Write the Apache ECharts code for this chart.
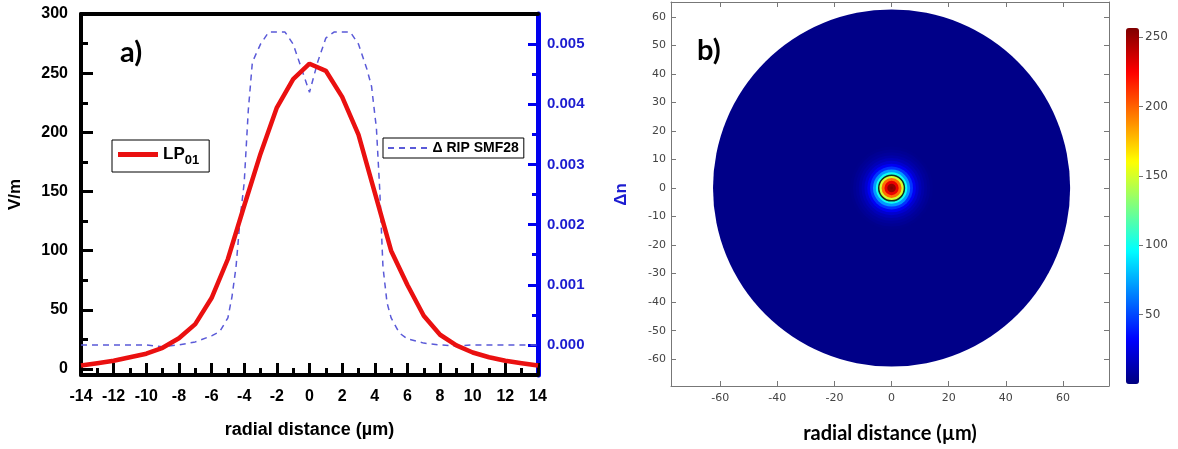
<!DOCTYPE html>
<html>
<head>
<meta charset="utf-8">
<script src="https://cdn.jsdelivr.net/npm/echarts@6/dist/echarts.min.js"></script>
<style>
html,body{margin:0;padding:0;background:#fff;}
#chart{width:1178px;height:449px;}
</style>
</head>
<body>
<div id="chart"></div>
<script>
// ---------- DATA ----------
// Panel a: LP01 field profile (V/m) vs radial distance (µm)
const radialX = [-14,-13,-12,-11,-10,-9,-8,-7,-6,-5,-4,-3,-2,-1,0,1,2,3,4,5,6,7,8,9,10,11,12,13,14];
const lp01Values = [3,5,7,10,13,18,26,38,60,93,138,182,221,245,258,252,230,198,149,100,71,45,29,20,14,10,7,5,3];
// Panel a: refractive index profile Δn (SMF28)
const ripX = [-14,-12,-10,-9,-8,-7,-6,-5.5,-5,-4.75,-4.5,-4.25,-4,-3.75,-3.5,-3,-2.5,-1.5,-1,-0.5,0,0.5,1,1.5,2.5,3,3.5,3.8,4.1,4.3,4.5,4.75,5,5.5,6,7,8,9,10,12,14];
const ripValues = [0,0,0,-0.00003,0,0.00005,0.00015,0.00022,0.00045,0.0008,0.0013,0.0021,0.0027,0.0039,0.0047,0.0050,0.0052,0.0052,0.0050,0.0046,0.0042,0.0047,0.0051,0.0052,0.0052,0.0050,0.0046,0.0043,0.0036,0.0026,0.0013,0.0007,0.00045,0.0002,0.0001,0.00003,0,-0.00002,0,0,0];
// Tick labels
const aXTicks = [-14,-12,-10,-8,-6,-4,-2,0,2,4,6,8,10,12,14];
const aLeftLabels = [0,50,100,150,200,250,300];
const aLeftMinor = [0,25,50,75,100,125,150,175,200,225,250,275,300];
const aRightLabels = [0,0.001,0.002,0.003,0.004,0.005];
const aRightMinor = [0,0.0005,0.001,0.0015,0.002,0.0025,0.003,0.0035,0.004,0.0045,0.005];
const bXLabels = [-60,-40,-20,0,20,40,60];
const bYLabels = [-60,-50,-40,-30,-20,-10,0,10,20,30,40,50,60];
const colorbarLabels = [50,100,150,200,250];
// Panel b: fibre geometry (µm) and field radial profile (right half of LP01)
const claddingRadius = 62.5;
const coreRadius = 4.5;
const spotRadius = [0,1,2,3,4,5,6,7,8,9,10,11,12,13,14];
const spotField = [258,252,230,198,149,100,71,45,29,20,14,10,7,5,3];
const fieldMin = 0, fieldMax = 256.5;

// ---------- CHART ----------
const chart = echarts.init(document.getElementById('chart'), null, {renderer:'canvas'});
const AR = 'Liberation Sans, Arial, sans-serif';
const CAL = 'Lato, Open Sans, sans-serif';
const BLUE = '#0000ee';
const jet = ['#00007f','#0000ff','#007fff','#00ffff','#7fff7f','#ffff00','#ff7f00','#ff0000','#7f0000'];

const lpData = radialX.map((x,i)=>[x, lp01Values[i]]);
const ripData = ripX.map((x,i)=>[x, ripValues[i]]);
const spotData = spotRadius.map((r,i)=>[r, spotField[i]]).reverse();

const option = {
  backgroundColor:'#fff',
  animation:false,
  grid:[
    {left:81, top:14, width:457, height:361, containLabel:false},
    {left:671, top:2, width:438, height:387, containLabel:false},
    {left:1126, top:28, width:13, height:356, containLabel:false}
  ],
  xAxis:[
    {gridIndex:0, type:'value', position:'bottom', min:-14, max:14, interval:2,
     axisLine:{show:true, onZero:false, lineStyle:{color:'#000', width:4}},
     axisTick:{show:true, inside:true, length:12, lineStyle:{color:'#000', width:3}},
     minorTick:{show:true, splitNumber:2, length:7, lineStyle:{color:'#000', width:3}},
     axisLabel:{color:'#000', fontSize:16, fontWeight:'bold', fontFamily:AR, margin:14,
       customValues: aXTicks},
     splitLine:{show:false}, minorSplitLine:{show:false},
     name:'radial distance (µm)', nameLocation:'middle', nameGap:46,
     nameTextStyle:{color:'#000', fontSize:18, fontWeight:'bold', fontFamily:AR}},
    {gridIndex:0, type:'value', position:'top', min:-14, max:14,
     axisLine:{show:true, onZero:false, lineStyle:{color:'#000', width:4}},
     axisTick:{show:false}, axisLabel:{show:false}, splitLine:{show:false}},
    {gridIndex:1, type:'value', position:'bottom', min:-77.2, max:76.1,
     axisLine:{show:true, onZero:false, lineStyle:{color:'#777', width:1}},
     axisTick:{show:true, inside:true, length:5, customValues:bXLabels, lineStyle:{color:'#777'}},
     axisLabel:{color:'#444', fontSize:11, fontFamily:'DejaVu Sans, sans-serif', margin:7, customValues:bXLabels},
     splitLine:{show:false},
     name:'radial distance (µm)', nameLocation:'middle', nameGap:38,
     nameTextStyle:{color:'#000', fontSize:20, fontWeight:'bold', fontFamily:CAL}},
    {gridIndex:1, type:'value', position:'top', min:-77.2, max:76.1,
     axisLine:{show:true, onZero:false, lineStyle:{color:'#777', width:1}},
     axisTick:{show:true, inside:true, length:5, customValues:bXLabels, lineStyle:{color:'#777'}},
     axisLabel:{show:false}, splitLine:{show:false}},
    {gridIndex:2, type:'value', min:0, max:1, show:false}
  ],
  yAxis:[
    {gridIndex:0, type:'value', position:'left', min:-5, max:300,
     axisLine:{show:true, onZero:false, lineStyle:{color:'#000', width:4}},
     axisTick:{show:true, inside:true, length:7, customValues:aLeftMinor, lineStyle:{color:'#000', width:3}},
     axisLabel:{color:'#000', fontSize:16, fontWeight:'bold', fontFamily:AR, margin:13, customValues:aLeftLabels},
     splitLine:{show:false},
     name:'V/m', nameLocation:'middle', nameGap:57, nameRotate:90,
     nameTextStyle:{color:'#000', fontSize:17, fontWeight:'bold', fontFamily:AR}},
    {gridIndex:0, type:'value', position:'right', min:-0.0005, max:0.0055,
     axisLine:{show:true, onZero:false, lineStyle:{color:BLUE, width:5}},
     axisTick:{show:true, inside:true, length:6, customValues:aRightMinor, lineStyle:{color:BLUE, width:3}},
     axisLabel:{color:'#1c1cd0', fontSize:15, fontWeight:'bold', fontFamily:AR, margin:9,
       customValues:aRightLabels, formatter:(v)=>v.toFixed(3)},
     splitLine:{show:false},
     name:'Δn', nameLocation:'middle', nameGap:75, nameRotate:90,
     nameTextStyle:{color:'#1c1cd0', fontSize:17, fontWeight:'bold', fontFamily:AR}},
    {gridIndex:0, type:'value', position:'left', min:-5, max:300,
     axisLine:{show:false, onZero:false},
     axisTick:{show:true, inside:true, length:12, customValues:aLeftLabels, lineStyle:{color:'#000', width:3}},
     axisLabel:{show:false}, splitLine:{show:false}},
    {gridIndex:0, type:'value', position:'right', min:-0.0005, max:0.0055,
     axisLine:{show:false, onZero:false},
     axisTick:{show:true, inside:true, length:10, customValues:aRightLabels, lineStyle:{color:BLUE, width:3}},
     axisLabel:{show:false}, splitLine:{show:false}},
    {gridIndex:1, type:'value', position:'left', min:-69.4, max:65.2,
     axisLine:{show:true, onZero:false, lineStyle:{color:'#777', width:1}},
     axisTick:{show:true, inside:true, length:5, customValues:bYLabels, lineStyle:{color:'#777'}},
     axisLabel:{color:'#444', fontSize:11, fontFamily:'DejaVu Sans, sans-serif', margin:5, customValues:bYLabels},
     splitLine:{show:false}},
    {gridIndex:1, type:'value', position:'right', min:-69.4, max:65.2,
     axisLine:{show:true, onZero:false, lineStyle:{color:'#777', width:1}},
     axisTick:{show:true, inside:true, length:5, customValues:bYLabels, lineStyle:{color:'#777'}},
     axisLabel:{show:false}, splitLine:{show:false}},
    {gridIndex:2, type:'value', position:'right', min:fieldMin, max:fieldMax,
     axisLine:{show:false, onZero:false},
     axisTick:{show:true, inside:false, length:4, customValues:colorbarLabels, lineStyle:{color:'#777'}},
     axisLabel:{color:'#444', fontSize:12, fontFamily:'DejaVu Sans, sans-serif', margin:6, customValues:colorbarLabels},
     splitLine:{show:false}}
  ],
  visualMap:[{
    type:'continuous', seriesIndex:3, dimension:1, min:fieldMin, max:fieldMax,
    calculable:false, show:true, left:1126, top:28, itemWidth:13, itemHeight:356, padding:0,
    text:null, showLabel:false, inRange:{color:jet}, orient:'vertical'
  }],
  legend:[
    {data:[{name:'LP01', icon:'path://M0,0L40,0L40,5L0,5Z'}], left:112, top:140, orient:'horizontal', borderColor:'#000', borderWidth:1,
     padding:[6,10,5,6], itemWidth:40, itemHeight:5, itemGap:4,
     formatter:()=>'{m|LP}{s|01}',
     textStyle:{rich:{
       m:{fontSize:17, fontWeight:'bold', fontFamily:AR, color:'#000'},
       s:{fontSize:13, fontWeight:'bold', fontFamily:AR, color:'#000', padding:[12,0,0,0]}
     }}},
    {data:[{name:'Δ RIP SMF28', icon:'path://M0,0h6v2h-6zM11,0h6v2h-6zM22,0h6v2h-6zM33,0h6v2h-6z'}], left:383, top:138, orient:'horizontal', borderColor:'#000', borderWidth:1,
     padding:[3,5,3,5], itemWidth:40, itemHeight:2, itemGap:4,
     textStyle:{fontSize:14, fontWeight:'bold', fontFamily:AR, color:'#000'}}
  ],
  graphic:[
    {type:'text', left:120, top:38, style:{text:'a)', fontSize:29, fontWeight:'bold', fontFamily:CAL, fill:'#000'}},
    {type:'text', left:697, top:36, style:{text:'b)', fontSize:29, fontWeight:'bold', fontFamily:CAL, fill:'#000'}}
  ],
  series:[
    {name:'LP01', type:'line', xAxisIndex:0, yAxisIndex:0, data:lpData, symbol:'none', z:4,
     lineStyle:{color:'#ea1010', width:4.5}, itemStyle:{color:'#ea1010'}},
    {name:'Δ RIP SMF28', type:'line', xAxisIndex:0, yAxisIndex:1, data:ripData, symbol:'none', z:3,
     lineStyle:{color:'#5a5ad8', width:1.5, type:[6,5]}, itemStyle:{color:'#5a5ad8'}},
    {name:'cladding', type:'custom', xAxisIndex:2, yAxisIndex:4, data:[[claddingRadius]], z:2,
     renderItem:(params, api)=>{
       const c = api.coord([0,0]);
       const r = api.size([api.value(0),0])[0];
       return {type:'circle', shape:{cx:c[0], cy:c[1], r:r}, style:{fill:'#000088', stroke:null}};
     }},
    {name:'field', type:'custom', xAxisIndex:2, yAxisIndex:4, data:spotData, z:3,
     encode:{x:0, y:1},
     renderItem:(params, api)=>{
       const c = api.coord([0,0]);
       const r = api.size([api.value(0)+0.5,0])[0];
       return {type:'circle', shape:{cx:c[0], cy:c[1], r:r}, style:{fill:api.visual('color'), stroke:null}};
     }},
    {name:'core', type:'custom', xAxisIndex:2, yAxisIndex:4, data:[[coreRadius]], z:4,
     renderItem:(params, api)=>{
       const c = api.coord([0,0]);
       const r = api.size([api.value(0),0])[0];
       return {type:'circle', shape:{cx:c[0], cy:c[1], r:r}, style:{fill:null, stroke:'#103020', lineWidth:1.5}};
     }}
  ]
};
chart.setOption(option);
</script>
</body>
</html>
